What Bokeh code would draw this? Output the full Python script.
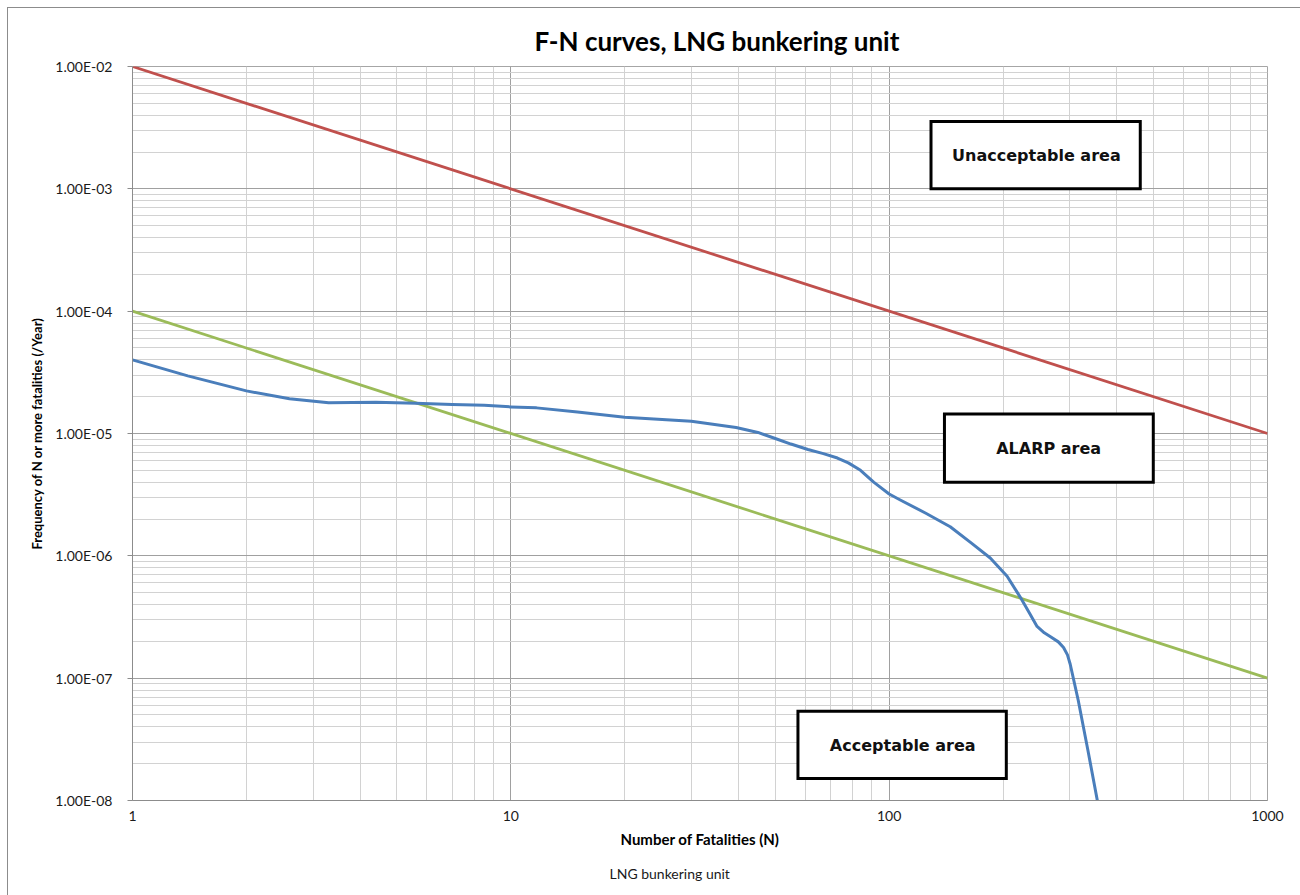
from bokeh.plotting import figure
from bokeh.models import (FixedTicker, CustomJSTickFormatter, BoxAnnotation, Label,
                          Range1d, Title)
from bokeh.embed import file_html
from bokeh.resources import INLINE

# ---- data ----
x_ticks = [1, 10, 100, 1000]
x_tick_labels = ["1", "10", "100", "1000"]
y_ticks = [1e-8, 1e-7, 1e-6, 1e-5, 1e-4, 1e-3, 1e-2]
y_tick_labels = ["1.00E-08", "1.00E-07", "1.00E-06", "1.00E-05", "1.00E-04", "1.00E-03", "1.00E-02"]

upper_N = [1, 1000]
upper_F = [1e-2, 1e-5]
lower_N = [1, 1000]
lower_F = [1e-4, 1e-7]

series_name = "LNG bunkering unit"
lng_N = [1, 1.4, 2, 2.6, 3.3, 4.4, 5.6, 7, 8.5, 10, 11.7, 15, 20, 30, 39.4, 45, 50, 55,
         61, 67, 73, 78, 84, 91, 100, 107, 125, 145, 165, 185, 205, 222, 235, 246, 257,
         267, 280, 289, 296, 301, 316, 335, 355]
lng_F = [4.0e-5, 2.96e-5, 2.23e-5, 1.92e-5, 1.78e-5, 1.8e-5, 1.77e-5, 1.73e-5, 1.70e-5,
         1.65e-5, 1.62e-5, 1.5e-5, 1.36e-5, 1.26e-5, 1.12e-5, 1.02e-5, 9.1e-6, 8.2e-6,
         7.4e-6, 6.85e-6, 6.3e-6, 5.75e-6, 5.0e-6, 4.0e-6, 3.2e-6, 2.86e-6, 2.23e-6,
         1.73e-6, 1.27e-6, 9.6e-7, 6.8e-7, 4.6e-7, 3.4e-7, 2.65e-7, 2.35e-7, 2.18e-7,
         1.98e-7, 1.78e-7, 1.55e-7, 1.3e-7, 6.6e-8, 2.6e-8, 1.0e-8]

FONT = "Lato"

p = figure(width=1293, height=888, x_axis_type="log", y_axis_type="log",
           x_range=Range1d(1, 1000), y_range=Range1d(1e-8, 1e-2),
           output_backend="svg", toolbar_location=None,
           min_border_left=124, min_border_top=58, min_border_right=34, min_border_bottom=96,
           styles={"margin-left": "7px", "margin-top": "7px",
                   "border-top": "1px solid #8c8c8c", "border-left": "1px solid #8c8c8c"})

p.title.text = "F-N curves, LNG bunkering unit"
p.title.text_font = FONT
p.title.text_font_size = "26px"
p.title.text_font_style = "bold"
p.title.align = "left"
p.title.offset = 402
p.title.text_color = "#000000"
p.title.standoff = 19

# ticks / grid
xminor = [k * 10 ** e for e in range(0, 3) for k in range(2, 10)]
yminor = [k * 10.0 ** e for e in range(-8, -2) for k in range(2, 10)]
p.xaxis.ticker = FixedTicker(ticks=x_ticks, minor_ticks=xminor)
p.yaxis.ticker = FixedTicker(ticks=y_ticks, minor_ticks=yminor)

fmt_code = """
for (let i = 0; i < tv.length; i++) {
  if (Math.abs(Math.log10(tick) - Math.log10(tv[i])) < 1e-6) { return tl[i]; }
}
return '';
"""
p.xaxis.formatter = CustomJSTickFormatter(args=dict(tv=x_ticks, tl=x_tick_labels), code=fmt_code)
p.yaxis.formatter = CustomJSTickFormatter(args=dict(tv=y_ticks, tl=y_tick_labels), code=fmt_code)

for ax in (p.xaxis, p.yaxis):
    ax.axis_line_color = "#8c8c8c"
    ax.major_tick_line_color = "#8c8c8c"
    ax.minor_tick_line_color = None
    ax.major_label_text_font = FONT
    ax.major_label_text_font_size = "14px"
    ax.major_label_text_color = "#1a1a1a"
    ax.axis_label_text_font = FONT
    ax.axis_label_text_font_style = "bold"
    ax.axis_label_text_color = "#000000"
    ax.minor_tick_out = 0
    ax.minor_tick_in = 0
    ax.major_tick_in = 0

p.xaxis.major_tick_out = 0
p.xaxis.major_label_standoff = 10
p.xaxis.axis_label = "Number of Fatalities (N)"
p.xaxis.axis_label_text_font_size = "15px"
p.xaxis.axis_label_standoff = 6

p.yaxis.major_tick_out = 5
p.yaxis.major_label_standoff = 15
p.yaxis.axis_label = "Frequency of N or more fatalities (/Year)"
p.yaxis.axis_label_text_font_size = "13px"
p.yaxis.axis_label_standoff = 7

p.xgrid.grid_line_color = "#a0a0a0"
p.ygrid.grid_line_color = "#a0a0a0"
p.xgrid.minor_grid_line_color = "#d2d2d2"
p.ygrid.minor_grid_line_color = "#d2d2d2"
p.outline_line_color = "#a6a6a6"
p.background_fill_color = "white"
p.border_fill_color = "white"

# criteria lines and curve
p.line(upper_N, upper_F, line_color="#C0504D", line_width=2.8)
p.line(lower_N, lower_F, line_color="#9BBB59", line_width=2.8)
p.line(lng_N, lng_F, line_color="#4A7EBB", line_width=3, line_join="round")

# area boxes
boxes = [
    ("Unacceptable area", 129, 461, 1.0e-3, 3.55e-3, 245, 1.89e-3),
    ("ALARP area", 140, 499, 4.0e-6, 1.445e-5, 264, 7.6e-6),
    ("Acceptable area", 57.4, 204, 1.51e-8, 5.36e-8, 108.6, 2.84e-8),
]
for txt, l, r, b, t, cx, cy in boxes:
    p.add_layout(BoxAnnotation(left=l, right=r, bottom=b, top=t, fill_color="white",
                               fill_alpha=1, line_color="black", line_alpha=1, line_width=3,
                               line_join="miter"))
    p.add_layout(Label(x=cx, y=cy, text=txt, text_align="center", text_baseline="middle",
                       text_font="DejaVu Sans", text_font_style="bold",
                       text_font_size="16px", text_color="#111111"))

# series key below the axis title
p.add_layout(Title(text=series_name, text_font=FONT, text_font_size="14px",
                   text_font_style="normal", text_color="#1a1a1a", align="left",
                   offset=477, standoff=25), "below")

open("out.html", "w").write(file_html(p, INLINE))
